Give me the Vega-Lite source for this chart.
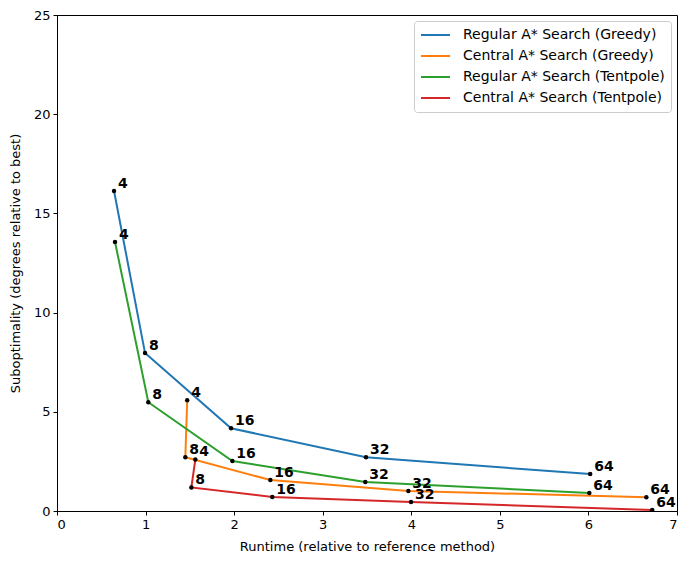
{
  "$schema": "https://vega.github.io/schema/vega-lite/v6.json",
  "width": 620,
  "height": 496,
  "autosize": {"type": "none"},
  "padding": {"left": 57, "top": 15, "right": 14, "bottom": 53},
  "background": "white",
  "config": {
    "font": "DejaVu Sans",
    "view": {"stroke": "black", "strokeWidth": 1},
    "axis": {
      "grid": false,
      "domainColor": "black",
      "tickColor": "black",
      "tickSize": 4,
      "labelFontSize": 13,
      "labelColor": "black",
      "titleFontSize": 13,
      "titleFontWeight": "normal",
      "titleColor": "black",
      "labelPadding": 3
    }
  },
  "data": {
    "values": [
      {"series": "Regular A* Search (Greedy)", "n": 4, "runtime": 0.644, "sub": 16.13},
      {"series": "Regular A* Search (Greedy)", "n": 8, "runtime": 0.994, "sub": 7.96},
      {"series": "Regular A* Search (Greedy)", "n": 16, "runtime": 1.965, "sub": 4.17},
      {"series": "Regular A* Search (Greedy)", "n": 32, "runtime": 3.489, "sub": 2.71},
      {"series": "Regular A* Search (Greedy)", "n": 64, "runtime": 6.02, "sub": 1.86},
      {"series": "Central A* Search (Greedy)", "n": 4, "runtime": 1.47, "sub": 5.58},
      {"series": "Central A* Search (Greedy)", "n": 8, "runtime": 1.449, "sub": 2.71},
      {"series": "Central A* Search (Greedy)", "n": 16, "runtime": 2.409, "sub": 1.56},
      {"series": "Central A* Search (Greedy)", "n": 32, "runtime": 3.967, "sub": 1.01},
      {"series": "Central A* Search (Greedy)", "n": 64, "runtime": 6.654, "sub": 0.69},
      {"series": "Regular A* Search (Tentpole)", "n": 4, "runtime": 0.655, "sub": 13.56},
      {"series": "Regular A* Search (Tentpole)", "n": 8, "runtime": 1.031, "sub": 5.48},
      {"series": "Regular A* Search (Tentpole)", "n": 16, "runtime": 1.98, "sub": 2.52},
      {"series": "Regular A* Search (Tentpole)", "n": 32, "runtime": 3.481, "sub": 1.46},
      {"series": "Regular A* Search (Tentpole)", "n": 64, "runtime": 6.01, "sub": 0.91},
      {"series": "Central A* Search (Tentpole)", "n": 4, "runtime": 1.562, "sub": 2.6},
      {"series": "Central A* Search (Tentpole)", "n": 8, "runtime": 1.517, "sub": 1.19},
      {"series": "Central A* Search (Tentpole)", "n": 16, "runtime": 2.431, "sub": 0.71},
      {"series": "Central A* Search (Tentpole)", "n": 32, "runtime": 3.997, "sub": 0.45},
      {"series": "Central A* Search (Tentpole)", "n": 64, "runtime": 6.72, "sub": 0.05}
    ]
  },
  "encoding": {
    "x": {
      "field": "runtime", "type": "quantitative",
      "scale": {"domain": [0, 7], "nice": false, "zero": false},
      "axis": {"values": [0, 1, 2, 3, 4, 5, 6, 7], "title": "Runtime (relative to reference method)", "titlePadding": 9}
    },
    "y": {
      "field": "sub", "type": "quantitative",
      "scale": {"domain": [0, 25], "nice": false, "zero": false},
      "axis": {"values": [0, 5, 10, 15, 20, 25], "title": "Suboptimality (degrees relative to best)", "titlePadding": 11}
    }
  },
  "layer": [
    {
      "mark": {"type": "line", "strokeWidth": 2, "clip": true},
      "encoding": {
        "color": {
          "field": "series", "type": "nominal",
          "scale": {
            "domain": ["Regular A* Search (Greedy)", "Central A* Search (Greedy)", "Regular A* Search (Tentpole)", "Central A* Search (Tentpole)"],
            "range": ["#1f77b4", "#ff7f0e", "#2ca02c", "#d62728"]
          },
          "legend": {
            "title": null,
            "orient": "top-right",
            "offset": 6,
            "symbolType": "stroke",
            "symbolStrokeWidth": 2,
            "symbolSize": 841,
            "symbolOffset": 0,
            "clipHeight": 16,
            "labelOffset": 12,
            "labelFontSize": 14,
            "labelLimit": 400,
            "labelColor": "black",
            "rowPadding": 5,
            "padding": 6,
            "fillColor": "white",
            "strokeColor": "#cccccc",
            "cornerRadius": 3
          }
        },
        "order": {"field": "n", "type": "quantitative"}
      }
    },
    {
      "mark": {"type": "point", "filled": true, "color": "black", "size": 20, "opacity": 1, "clip": true}
    },
    {
      "mark": {"type": "text", "align": "left", "baseline": "alphabetic", "dx": 4, "dy": -3, "fontWeight": "bold", "fontSize": 14, "color": "black"},
      "encoding": {"text": {"field": "n", "type": "quantitative"}}
    }
  ]
}
